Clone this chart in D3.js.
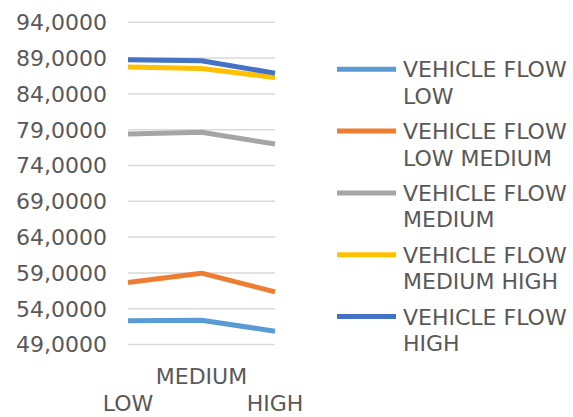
<!DOCTYPE html>
<html>
<head>
<meta charset="utf-8">
<script src="https://cdn.jsdelivr.net/npm/d3@7"></script>
<style>
  html, body { margin: 0; padding: 0; background: #fff; }
  svg { display: block; }
  text { font-family: "DejaVu Sans", sans-serif; fill: #595959; }
</style>
</head>
<body>
<svg id="chart" width="573" height="417"></svg>
<script>
// Categories along the x axis
const categories = ["LOW", "MEDIUM", "HIGH"];

// Series names (legend order, two lines each) and colours
const seriesNames = [
  ["VEHICLE FLOW", "LOW"],
  ["VEHICLE FLOW", "LOW MEDIUM"],
  ["VEHICLE FLOW", "MEDIUM"],
  ["VEHICLE FLOW", "MEDIUM HIGH"],
  ["VEHICLE FLOW", "HIGH"]
];
const seriesColors = ["#5b9bd5", "#ed7d31", "#a5a5a5", "#ffc000", "#4472c4"];

// Values per series, one per category
const flowLow        = [52.3, 52.4, 50.85];
const flowLowMedium  = [57.65, 58.96, 56.35];
const flowMedium     = [78.4, 78.64, 77.0];
const flowMediumHigh = [87.75, 87.55, 86.3];
const flowHigh       = [88.76, 88.62, 86.9];
const seriesValues = [flowLow, flowLowMedium, flowMedium, flowMediumHigh, flowHigh];

// Y axis ticks and their labels
const yTicks = [49, 54, 59, 64, 69, 74, 79, 84, 89, 94];
const yTickLabels = ["49,0000", "54,0000", "59,0000", "64,0000", "69,0000",
                     "74,0000", "79,0000", "84,0000", "89,0000", "94,0000"];

const svg = d3.select("#chart");

const x = d3.scalePoint().domain(categories).range([128, 275]);
const y = d3.scaleLinear().domain([49, 94]).range([344.5, 22.3]);

// Horizontal gridlines
svg.append("g")
  .selectAll("line")
  .data(yTicks)
  .join("line")
  .attr("x1", 128).attr("x2", 275)
  .attr("y1", d => y(d)).attr("y2", d => y(d))
  .attr("stroke", "#d9d9d9").attr("stroke-width", 1.5);

// Y axis labels
svg.append("g")
  .selectAll("text")
  .data(yTicks)
  .join("text")
  .attr("x", 107)
  .attr("y", d => y(d))
  .attr("dy", "0.36em")
  .attr("text-anchor", "end")
  .attr("font-size", 22)
  .text((d, i) => yTickLabels[i]);

// X axis labels, staggered over two rows
svg.append("g")
  .selectAll("text")
  .data(categories)
  .join("text")
  .attr("x", d => x(d))
  .attr("y", (d, i) => i % 2 === 1 ? 384 : 411)
  .attr("text-anchor", "middle")
  .attr("font-size", 22)
  .text(d => d);

// Series lines
const line = d3.line()
  .x((d, i) => x(categories[i]))
  .y(d => y(d));

svg.append("g")
  .selectAll("path")
  .data(seriesValues)
  .join("path")
  .attr("d", d => line(d))
  .attr("fill", "none")
  .attr("stroke", (d, i) => seriesColors[i])
  .attr("stroke-width", 5)
  .attr("stroke-linejoin", "round");

// Legend
const legendTop = 69.3, legendStep = 61.8;
const lg = svg.append("g")
  .selectAll("g")
  .data(seriesNames)
  .join("g")
  .attr("transform", (d, i) => `translate(0,${legendTop + i * legendStep})`);

lg.append("line")
  .attr("x1", 337).attr("x2", 396)
  .attr("y1", 0).attr("y2", 0)
  .attr("stroke", (d, i) => seriesColors[i])
  .attr("stroke-width", 5);

lg.append("text")
  .attr("x", 403)
  .attr("font-size", 22)
  .selectAll("tspan")
  .data(d => d)
  .join("tspan")
  .attr("x", 403)
  .attr("y", (d, j) => 8 + j * 26.5)
  .text(d => d);
</script>
</body>
</html>
